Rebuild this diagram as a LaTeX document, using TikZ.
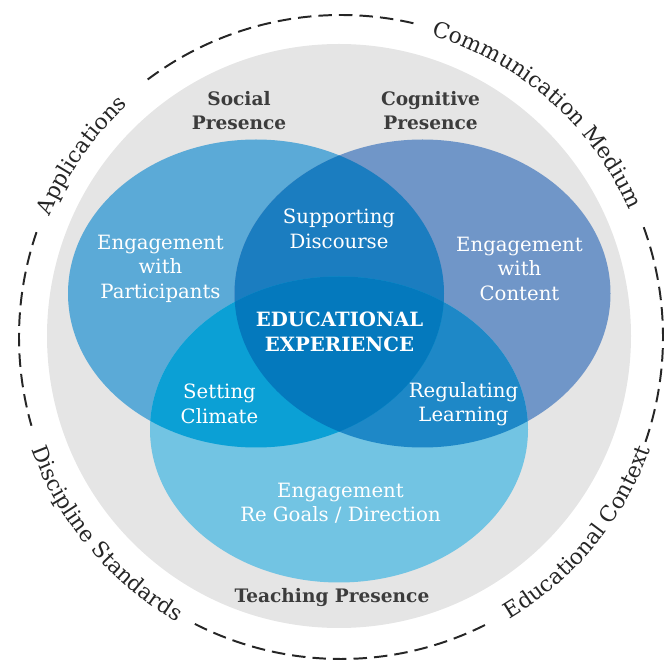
\documentclass[tikz,border=0pt]{standalone}
\usepackage{fontspec}
\setmainfont{DejaVu Serif}
\usepackage{xcolor}
\usepackage{tikz}
\usetikzlibrary{calc}
\usetikzlibrary{decorations.text}

\definecolor{ringgray}{HTML}{E5E5E5}
\definecolor{socialblue}{HTML}{5BAAD7}
\definecolor{cognitiveblue}{HTML}{7096C8}
\definecolor{teachingblue}{HTML}{72C4E3}
\definecolor{discourseblue}{HTML}{1B7DC0}
\definecolor{climateblue}{HTML}{0BA0D5}
\definecolor{learningblue}{HTML}{1E88C7}
\definecolor{expblue}{HTML}{0479BD}
\definecolor{headgray}{HTML}{3C3C3C}

\tikzset{
	inside/.style={text=white, align=center, font=\fontsize{14}{17.4}\selectfont},
	heading/.style={text=headgray, align=center, font=\bfseries\fontsize{13.2}{17.4}\selectfont},
	rimdash/.style={dash pattern=on 9.6pt off 5pt, line width=1.4pt, black!85},
	rimtext/.style={decorate, decoration={text along path, text align=center,
		text={|\fontsize{15.5}{18}\selectfont\color{black!85}|#1}}}
}

\begin{document}
\begin{tikzpicture}[x=0.025cm, y=0.025cm]
	\useasboundingbox (0,0) rectangle (665,672);
	\coordinate (mid) at (341,335);
	\coordinate (socialc) at (256,378.5);
	\coordinate (cognitivec) at (422.5,378.5);
	\coordinate (teachingc) at (339,242.5);

	\fill[ringgray] (339,336) circle (292);

	% dashed outer ring
	\draw[rimdash] (mid) ++(77:322) arc[start angle=77, end angle=128, radius=322];
	\draw[rimdash] (mid) ++(161:322) arc[start angle=161, end angle=196, radius=322];
	\draw[rimdash] (mid) ++(243:322) arc[start angle=243, end angle=297, radius=322];
	\draw[rimdash] (mid) ++(341:322) arc[start angle=341, end angle=380, radius=322];

	\path[rimtext={Applications}] (mid) ++(180:315) arc[start angle=180, end angle=110, radius=315];
	\path[rimtext={Communication Medium}] (mid) ++(95:315) arc[start angle=95, end angle=2, radius=315];
	\path[rimtext={Discipline Standards}] (mid) ++(175:329) arc[start angle=175, end angle=265, radius=329];
	\path[rimtext={Educational Context}] (mid) ++(275:329) arc[start angle=275, end angle=366, radius=329];

	% the three presences
	\fill[socialblue] (socialc) ellipse[x radius=188, y radius=154];
	\fill[cognitiveblue] (cognitivec) ellipse[x radius=188, y radius=154];
	\fill[teachingblue] (teachingc) ellipse[x radius=189, y radius=153];
	\begin{scope}
		\clip (cognitivec) ellipse[x radius=188, y radius=154];
		\fill[learningblue] (teachingc) ellipse[x radius=189, y radius=153];
	\end{scope}
	\begin{scope}
		\clip (socialc) ellipse[x radius=188, y radius=154];
		\fill[discourseblue] (cognitivec) ellipse[x radius=188, y radius=154];
		\fill[climateblue] (teachingc) ellipse[x radius=189, y radius=153];
		\clip (cognitivec) ellipse[x radius=188, y radius=154];
		\fill[expblue] (teachingc) ellipse[x radius=189, y radius=153];
	\end{scope}

	\node[heading] (social) at (239,561.5) {Social\\Presence};
	\node[heading] (cognitive) at (430.5,561.5) {Cognitive\\Presence};
	\node[heading] (teaching) at (332,74) {Teaching Presence};

	\node[inside] (participants) at (160.5,403.5) {Engagement\\with\\Participants};
	\node[inside] (discourse) at (339,443) {Supporting\\Discourse};
	\node[inside] (content) at (519.5,403.5) {Engagement\\with\\Content};
	\node[inside, font=\bfseries\fontsize{14}{17.4}\selectfont] (experience) at (339.5,340) {EDUCATIONAL\\EXPERIENCE};
	\node[inside] (climate) at (219.5,268) {Setting\\Climate};
	\node[inside] (learning) at (463.5,268) {Regulating\\Learning};
	\node[inside] (goals) at (340.5,168.5) {Engagement\\Re Goals / Direction};
\end{tikzpicture}
\end{document}
